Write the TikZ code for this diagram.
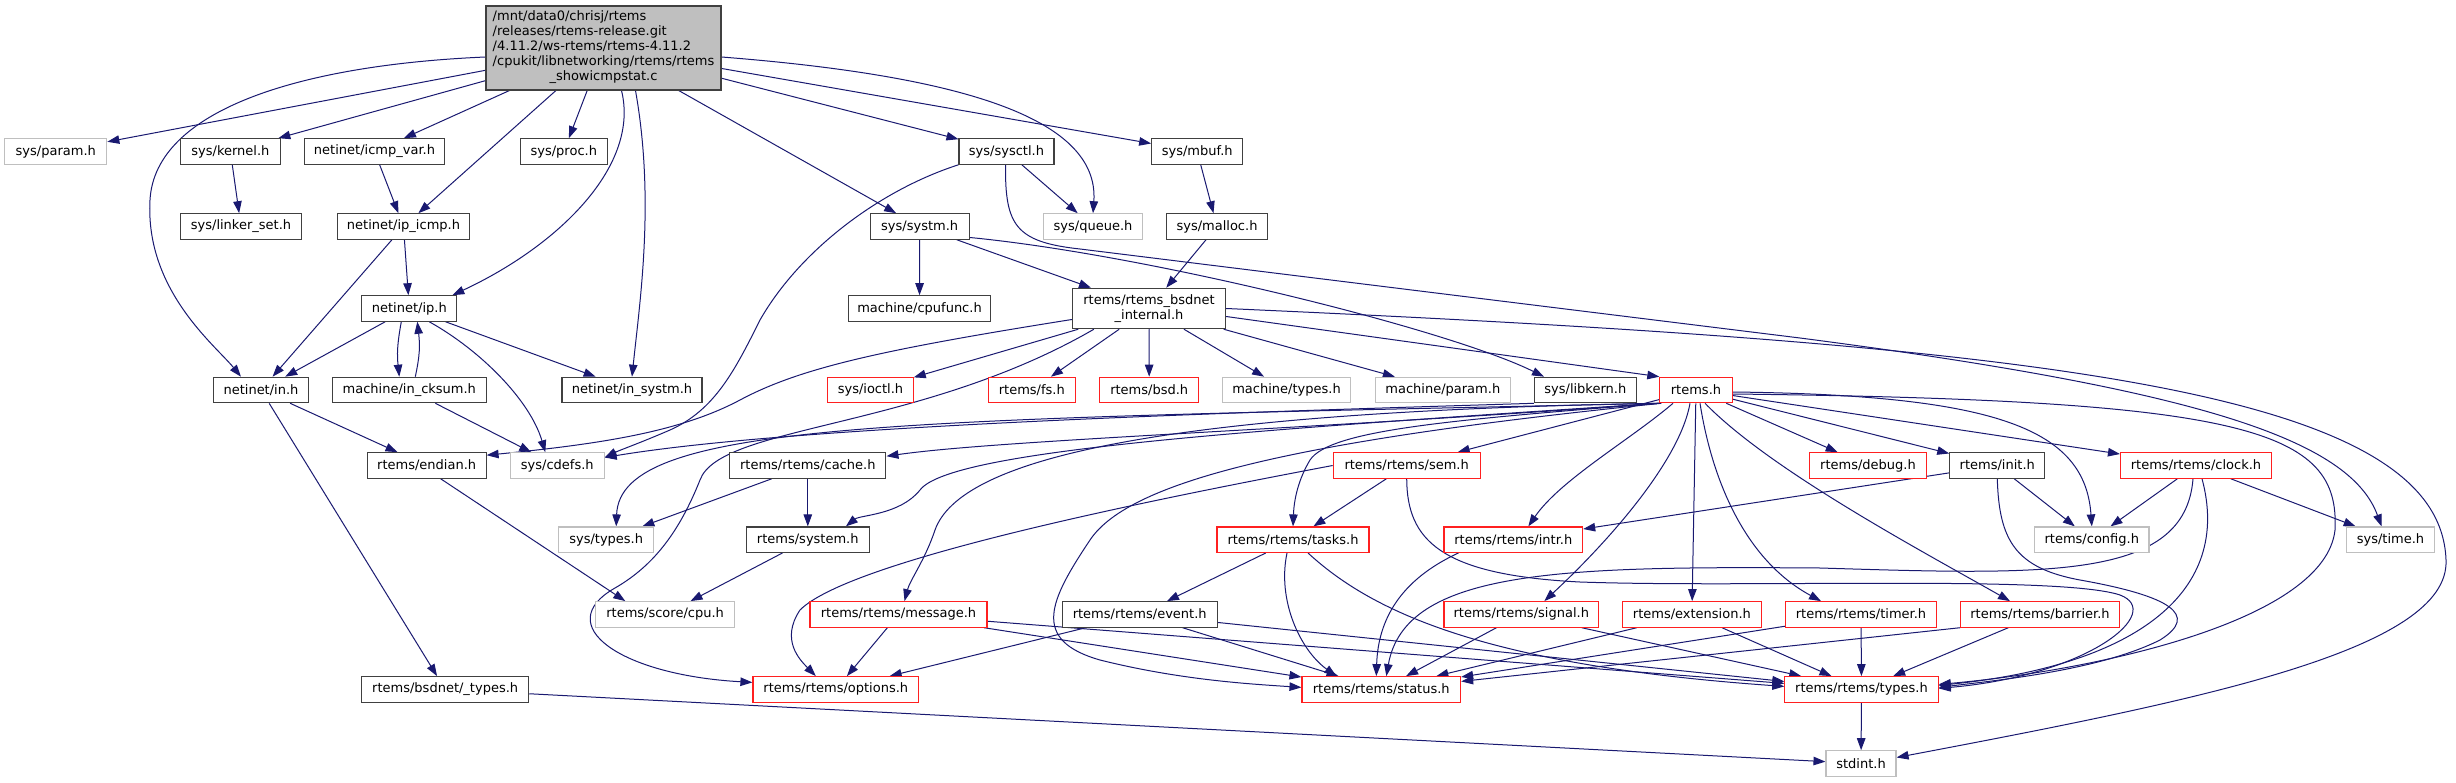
\documentclass[tikz,border=0pt]{standalone}
\usepackage{fontspec}
\setmainfont{DejaVu Sans}
\usetikzlibrary{arrows.meta,calc}
\pgfdeclarelayer{bg}
\pgfsetlayers{bg,main}
\definecolor{edgec}{HTML}{191970}
\definecolor{bordk}{HTML}{404040}
\definecolor{bordr}{HTML}{FF2020}
\definecolor{bordg}{HTML}{BFBFBF}
\definecolor{mainfill}{HTML}{BFBFBF}
\begin{document}
\begin{tikzpicture}[x=1pt,y=-1pt,
  box/.style={rectangle, fill=white, inner sep=0pt, minimum height=25.5pt,
    line width=1.1pt, font=\fontsize{13}{15}\selectfont},
  nb/.style={box, draw=bordk},
  nr/.style={box, draw=bordr},
  ng/.style={box, draw=bordg},
  mainbox/.style={box, draw=bordk, fill=mainfill, minimum height=84pt},
  dep/.style={draw=edgec, line width=1pt, -{Triangle[length=12pt,width=8.5pt]}},
]
\useasboundingbox (0,0) rectangle (2456,783);

% ---------- nodes ----------
\node[mainbox, minimum width=235pt] (src) at (603.5,48)
  {\begin{tabular}{@{}l@{}}/mnt/data0/chrisj/rtems\\/releases/rtems-release.git\\/4.11.2/ws-rtems/rtems-4.11.2\\/cpukit/libnetworking/rtems/rtems\\\multicolumn{1}{@{}c@{}}{\_showicmpstat.c}\end{tabular}};

% row 1
\node[ng, minimum width=102pt]   (param)   at (55.8,151.5)   {sys/param.h};
\node[nb, minimum width=99.3pt]  (kernel)  at (230.4,151.5)  {sys/kernel.h};
\node[nb, minimum width=140pt]   (icmpvar) at (374.5,151.5)  {netinet/icmp\_var.h};
\node[nb, minimum width=87pt]    (proc)    at (563.8,151.5)  {sys/proc.h};
\node[nb, minimum width=95pt]    (sysctl)  at (1006.5,151.5) {sys/sysctl.h};
\node[nb, minimum width=91pt]    (mbuf)    at (1197.2,151.5) {sys/mbuf.h};
% row 2
\node[nb, minimum width=120.6pt] (linkerset) at (241,226.5)  {sys/linker\_set.h};
\node[nb, minimum width=132.4pt] (ipicmp)  at (403.5,226.5)  {netinet/ip\_icmp.h};
\node[nb, minimum width=99.3pt]  (systm)   at (919.7,226.5)  {sys/systm.h};
\node[ng, minimum width=99pt]    (queue)   at (1093,226.5)   {sys/queue.h};
\node[nb, minimum width=101.8pt] (malloc)  at (1217,226.5)   {sys/malloc.h};
% row 3
\node[nb, minimum width=95pt]    (iph)     at (409.3,308.5)  {netinet/ip.h};
\node[nb, minimum width=142.4pt] (cpufunc) at (919.5,308.5)  {machine/cpufunc.h};
\node[nb, minimum width=153.2pt, minimum height=40.4pt, align=center] (bsdnet) at (1149,308.5)
  {rtems/rtems\_bsdnet\\\_internal.h};
% row 4
\node[nb, minimum width=95pt]    (inh)     at (261,390)      {netinet/in.h};
\node[nb, minimum width=153.5pt] (cksum)   at (409.3,390)    {machine/in\_cksum.h};
\node[nb, minimum width=140pt]   (insystm) at (632,390)      {netinet/in\_systm.h};
\node[nr, minimum width=85.4pt]  (ioctl)   at (870.5,390)    {sys/ioctl.h};
\node[nr, minimum width=87pt]    (fsh)     at (1031.8,390)   {rtems/fs.h};
\node[nr, minimum width=98.8pt]  (bsdh)    at (1149.2,390)   {rtems/bsd.h};
\node[ng, minimum width=128pt]   (mtypes)  at (1286.5,390)   {machine/types.h};
\node[ng, minimum width=135pt]   (mparam)  at (1442.8,390)   {machine/param.h};
\node[nb, minimum width=101.6pt] (libkern) at (1585.3,390)   {sys/libkern.h};
\node[nr, minimum width=72.3pt]  (rtemsh)  at (1696,390)     {rtems.h};
% row 5
\node[nb, minimum width=118.7pt] (endian)  at (426.7,465.5)  {rtems/endian.h};
\node[ng, minimum width=93.7pt]  (cdefs)   at (557.3,465.5)  {sys/cdefs.h};
\node[nb, minimum width=156.2pt] (cache)   at (807.8,465.5)  {rtems/rtems/cache.h};
\node[nr, minimum width=147pt]   (sem)     at (1406.7,465.5) {rtems/rtems/sem.h};
\node[nr, minimum width=116.8pt] (debug)   at (1868,465.5)   {rtems/debug.h};
\node[nb, minimum width=95pt]    (init)    at (1997.3,465.5) {rtems/init.h};
\node[nr, minimum width=151pt]   (clock)   at (2196,465.5)   {rtems/rtems/clock.h};
% row 6
\node[ng, minimum width=95pt]    (systypes) at (606.2,539.7) {sys/types.h};
\node[nb, minimum width=123pt]   (system)  at (807.8,539.7)  {rtems/system.h};
\node[nr, minimum width=152pt]   (tasks)   at (1293,539.7)   {rtems/rtems/tasks.h};
\node[nr, minimum width=138.7pt] (intr)    at (1513.3,539.7) {rtems/rtems/intr.h};
\node[ng, minimum width=114.3pt] (config)  at (2091.8,539.7) {rtems/config.h};
\node[ng, minimum width=88.3pt]  (time)    at (2390.5,539.7) {sys/time.h};
% row 7
\node[ng, minimum width=138.5pt] (scpu)    at (665.1,614.4)  {rtems/score/cpu.h};
\node[nr, minimum width=177pt]   (message) at (898.5,614.4)  {rtems/rtems/message.h};
\node[nb, minimum width=155pt]   (event)   at (1139.7,614.4) {rtems/rtems/event.h};
\node[nr, minimum width=154.6pt] (signal)  at (1521.3,614.4) {rtems/rtems/signal.h};
\node[nr, minimum width=138.4pt] (extension) at (1691.9,614.4) {rtems/extension.h};
\node[nr, minimum width=150.8pt] (timer)   at (1861,614.4)   {rtems/rtems/timer.h};
\node[nr, minimum width=158.5pt] (barrier) at (2040,614.4)   {rtems/rtems/barrier.h};
% row 8
\node[nb, minimum width=167pt]   (btypes)  at (445.2,689.4)  {rtems/bsdnet/\_types.h};
\node[nr, minimum width=165.7pt] (options) at (835.8,689.4)  {rtems/rtems/options.h};
\node[nr, minimum width=158.6pt] (status)  at (1381.3,689.4) {rtems/rtems/status.h};
\node[nr, minimum width=153.3pt] (rtypes)  at (1861.5,689.4) {rtems/rtems/types.h};
% row 9
\node[ng, minimum width=70pt]    (stdint)  at (1861,763.5)   {stdint.h};

% ---------- edges ----------
\begin{pgfonlayer}{bg}
% from the source file
\draw[dep] (src) -- (param);
\draw[dep] (src) -- (kernel);
\draw[dep] (src) -- (icmpvar);
\draw[dep] (src) -- (ipicmp);
\draw[dep] (src) -- (proc);
\draw[dep] ($(src.west)+(0,9)$) .. controls (300,65) and (155,110) .. (150,200)
  .. controls (145,290) and (215,345) .. ($(inh.north)+(-20,0)$);
\draw[dep] ($(src.south)+(18,0)$) .. controls (640,165) and (560,245) .. ($(iph.north east)+(-5,0)$);
\draw[dep] ($(src.south)+(32,0)$) .. controls (655,200) and (640,300) .. (insystm.north);
\draw[dep] (src) -- (systm);
\draw[dep] (src) -- (sysctl);
\draw[dep] ($(src.east)+(0,9)$) .. controls (950,75) and (1100,115) .. (queue.north);
\draw[dep] (src) -- (mbuf);
% netinet / sys
\draw[dep] (kernel) -- (linkerset);
\draw[dep] (icmpvar) -- (ipicmp);
\draw[dep] (ipicmp) -- (iph);
\draw[dep] (ipicmp) -- (inh);
\draw[dep] (iph) -- (inh);
\draw[dep] ($(iph.south)+(-8,0)$) .. controls (397,345) and (397,355) .. ($(cksum.north)+(-10,0)$);
\draw[dep] ($(cksum.north)+(6,0)$) .. controls (420,355) and (420,345) .. ($(iph.south)+(8,0)$);
\draw[dep] ($(iph.south)+(20,0)$) .. controls (480,350) and (530,400) .. ($(cdefs.north)+(-12,0)$);
\draw[dep] (iph) -- (insystm);
\draw[dep] (cksum) -- (cdefs);
\draw[dep] (inh) -- (endian);
\draw[dep] (inh) -- (btypes);
\draw[dep] ($(endian.south)+(14,0)$) -- ($(scpu.north west)+(30,0)$);
\draw[dep] (btypes) -- (stdint);
\draw[dep] (sysctl) -- (queue);
\draw[dep] (sysctl.south west) .. controls (880,190) and (800,250) .. (760,320)
  .. controls (735,370) and (715,410) .. (670,430)
  .. controls (640,443) and (620,450) .. ($(cdefs.east)+(0,-8)$);
\draw[dep] ($(sysctl.south)+(-1,0)$) .. controls (1005,225) and (1015,242) .. (1080,249)
  -- (1800,338) .. controls (2200,390) and (2350,440) .. ($(time.north)+(-9,0)$);
\draw[dep] (mbuf) -- (malloc);
\draw[dep] (malloc) -- (bsdnet);
\draw[dep] (systm) -- (cpufunc);
\draw[dep] (systm) -- (bsdnet);
\draw[dep] ($(systm.east)+(0,11)$) .. controls (1150,255) and (1450,330) .. ($(libkern.north west)+(10,0)$);
\draw[dep] (libkern.south west) .. controls (1250,412) and (800,425) .. ($(cdefs.east)+(0,-8)$);
% rtems_bsdnet_internal.h
\draw[dep] ($(bsdnet.west)+(0,11)$) .. controls (880,350) and (800,368) .. (740,400)
  .. controls (680,432) and (600,444) .. ($(endian.north east)+(0,3)$);
\draw[dep] ($(bsdnet.south west)+(22,0)$) .. controls (920,430) and (720,425) .. (700,480)
  .. controls (680,530) and (655,565) .. (615,588)
  .. controls (550,625) and (620,675) .. ($(options.west)+(0,-7)$);
\draw[dep] (bsdnet) -- (ioctl);
\draw[dep] (bsdnet) -- (fsh);
\draw[dep] (bsdnet) -- (bsdh);
\draw[dep] (bsdnet) -- (mtypes);
\draw[dep] (bsdnet) -- (mparam);
\draw[dep] ($(bsdnet.east)+(0,8)$) -- (rtemsh.north west);
\draw[dep] (bsdnet.east) .. controls (2050,345) and (2440,390) .. (2446,560)
  .. controls (2450,650) and (2200,700) .. ($(stdint.east)+(0,-6)$);
% rtems.h
\draw[dep] (rtemsh.south west) .. controls (900,420) and (620,420) .. ($(systypes.north)+(10,0)$);
\draw[dep] (rtemsh.south west) .. controls (1300,430) and (1000,440) .. ($(cache.north east)+(0,4)$);
\draw[dep] (rtemsh.south west) .. controls (1250,430) and (950,450) .. (920,490)
  .. controls (900,515) and (860,515) .. ($(system.north east)+(-24,0)$);
\draw[dep] (rtemsh.south west) .. controls (1150,412) and (960,460) .. (935,530)
  .. controls (925,560) and (910,580) .. ($(message.north)+(6,0)$);
\draw[dep] ($(rtemsh.south west)+(2,0)$) .. controls (1300,440) and (1130,480) .. (1090,540)
  .. controls (1050,600) and (1030,640) .. (1100,660)
  .. controls (1180,680) and (1250,684) .. ($(status.west)+(0,-2)$);
\draw[dep] (rtemsh.south west) .. controls (1450,420) and (1330,430) .. (1310,460)
  .. controls (1298,480) and (1294,500) .. (tasks.north);
\draw[dep] (rtemsh) -- (sem);
\draw[dep] ($(rtemsh.south)+(-23,0)$) .. controls (1630,440) and (1560,480) .. ($(intr.north)+(15,0)$);
\draw[dep] ($(rtemsh.south)+(-6,0)$) .. controls (1680,460) and (1610,540) .. ($(signal.north)+(23,0)$);
\draw[dep] (rtemsh) -- (extension);
\draw[dep] ($(rtemsh.south)+(4,0)$) .. controls (1712,480) and (1745,560) .. ($(timer.north)+(-40,0)$);
\draw[dep] ($(rtemsh.south)+(9,0)$) .. controls (1770,470) and (1920,550) .. ($(barrier.north)+(-30,0)$);
\draw[dep] (rtemsh) -- (debug);
\draw[dep] (rtemsh) -- (init);
\draw[dep] (rtemsh) -- (clock);
\draw[dep] ($(rtemsh.east)+(0,2)$) .. controls (2000,395) and (2085,430) .. (config.north);
\draw[dep] ($(rtemsh.east)+(0,4)$) .. controls (2250,400) and (2340,430) .. (2335,530)
  .. controls (2325,620) and (2100,670) .. ($(rtypes.east)+(0,-5)$);
% clock / init / sem
\draw[dep] (clock) -- (config);
\draw[dep] (clock) -- (time);
\draw[dep] ($(clock.south)+(6,0)$) .. controls (2232,590) and (2140,665) .. ($(rtypes.east)+(0,-4)$);
\draw[dep] ($(clock.south)+(-3,0)$) .. controls (2185,580) and (2050,575) .. (1820,568)
  .. controls (1560,566) and (1405,570) .. ($(status.north)+(5,0)$);
\draw[dep] (init) -- (intr);
\draw[dep] (init) -- (config);
\draw[dep] (init.south) .. controls (1999,540) and (2015,568) .. (2080,580)
  .. controls (2170,596) and (2200,615) .. (2160,640)
  .. controls (2100,670) and (2000,680) .. ($(rtypes.east)+(0,-2)$);
\draw[dep] (sem) -- (tasks);
\draw[dep] (sem.west) .. controls (1150,500) and (850,560) .. (800,610)
  .. controls (780,640) and (800,660) .. ($(options.north)+(-20,0)$);
\draw[dep] (sem.south) .. controls (1407,540) and (1440,575) .. (1580,582)
  .. controls (1750,588) and (2060,575) .. (2120,595)
  .. controls (2165,612) and (2090,675) .. ($(rtypes.east)+(0,-1)$);
% tasks / intr
\draw[dep] (tasks) -- (event);
\draw[dep] ($(tasks.south)+(-6,0)$) .. controls (1277,600) and (1300,650) .. ($(status.north)+(-45,0)$);
\draw[dep] ($(tasks.south)+(15,0)$) .. controls (1370,610) and (1480,665) .. ($(rtypes.west)+(0,-3)$);
\draw[dep] ($(intr.south west)+(15,0)$) .. controls (1400,580) and (1378,620) .. ($(status.north)+(-5,0)$);
% row 7 to row 8
\draw[dep] (message) -- (options);
\draw[dep] (message) -- (status);
\draw[dep] (message) -- (rtypes);
\draw[dep] (event) -- (options);
\draw[dep] (event) -- (status);
\draw[dep] (event) -- (rtypes);
\draw[dep] (signal) -- (status);
\draw[dep] (signal) -- (rtypes);
\draw[dep] (extension) -- (status);
\draw[dep] (extension) -- (rtypes);
\draw[dep] (timer) -- (status);
\draw[dep] (timer) -- (rtypes);
\draw[dep] (barrier.south west) -- ($(status.east)+(0,-8)$);
\draw[dep] (barrier) -- (rtypes);
\draw[dep] (rtypes) -- (stdint);
% cache / system
\draw[dep] (cache) -- (systypes);
\draw[dep] (cache) -- (system);
\draw[dep] (system) -- (scpu);
\end{pgfonlayer}
\end{tikzpicture}
\end{document}
